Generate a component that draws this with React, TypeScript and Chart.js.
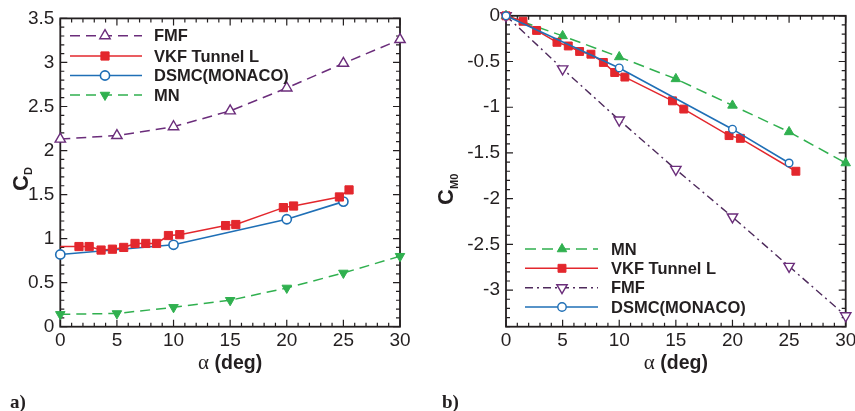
import React, { useEffect, useRef } from "react";
import { Chart, registerables } from "chart.js";

Chart.register(...registerables);

const PURPLE = "#6b2d7b";
const RED = "#e3272d";
const BLUE = "#1f6fb6";
const GREEN = "#30b04f";
const INK = "#231f20";
const SANS = "'Liberation Sans', Arial, Helvetica, sans-serif";
const SERIF = "'Liberation Serif', 'Times New Roman', serif";

// ---------- panel a) : drag coefficient C_D vs alpha ----------
const aAlphaFMF = [0, 5, 10, 15, 20, 25, 30];
const aCdFMF = [2.13, 2.17, 2.27, 2.45, 2.71, 2.99, 3.26];

const aAlphaVKF = [0, 1.65, 2.55, 3.6, 4.6, 5.6, 6.6, 7.55, 8.5, 9.55, 10.55, 14.6, 15.5, 19.7, 20.6, 24.65, 25.5];
const aCdVKF = [0.91, 0.91, 0.91, 0.87, 0.88, 0.9, 0.945, 0.945, 0.945, 1.035, 1.045, 1.148, 1.16, 1.352, 1.37, 1.473, 1.553];

const aAlphaDSMC = [0, 10, 20, 25];
const aCdDSMC = [0.82, 0.93, 1.22, 1.42];

const aAlphaMN = [0, 5, 10, 15, 20, 25, 30];
const aCdMN = [0.14, 0.15, 0.22, 0.3, 0.44, 0.61, 0.8];

const aXTicks = [0, 5, 10, 15, 20, 25, 30];
const aYTicks = [0, 0.5, 1, 1.5, 2, 2.5, 3, 3.5];

// ---------- panel b) : moment coefficient C_M0 vs alpha ----------
const bAlphaMN = [0, 5, 10, 15, 20, 25, 30];
const bCmMN = [0, -0.22, -0.45, -0.69, -0.98, -1.27, -1.61];

const bAlphaVKF = [0, 1.5, 2.7, 4.5, 5.5, 6.5, 7.5, 8.6, 9.6, 10.5, 14.7, 15.7, 19.7, 20.7, 25.6];
const bCmVKF = [0, -0.06, -0.16, -0.29, -0.33, -0.39, -0.42, -0.51, -0.62, -0.67, -0.93, -1.02, -1.31, -1.34, -1.7];

const bAlphaFMF = [0, 5, 10, 15, 20, 25, 30];
const bCmFMF = [0, -0.58, -1.14, -1.68, -2.2, -2.74, -3.28];

const bAlphaDSMC = [0, 10, 20, 25];
const bCmDSMC = [0, -0.57, -1.24, -1.61];

const bXTicks = [0, 5, 10, 15, 20, 25, 30];
const bYTicks = [0, -0.5, -1, -1.5, -2, -2.5, -3];

function pts(xs: number[], ys: number[]) {
  return xs.map((x, i) => ({ x, y: ys[i] }));
}

type Spec = {
  offset: number;
  width: number;
  plotLeft: number;
  plotRight: number;
  plotTop: number;
  plotBottom: number;
  xMin: number;
  xMax: number;
  yMin: number;
  yMax: number;
  xTicks: number[];
  yTicks: number[];
  datasets: any[];
  legendOrder: number[];
  legendX: [number, number, number, number];
  legendRows: number[];
  yTitle: { main: string; sub: string; cx: number; cy: number; sdx: number; sdy: number; subFont: number };
  xTitleY: number;
  panel: string;
  panelX: number;
  panelY: number;
};

function drawMarker(ctx: CanvasRenderingContext2D, ds: any, x: number, y: number) {
  const r = ds.legendRadius;
  const style = ds.pointStyle;
  const rot = ((ds.pointRotation || 0) * Math.PI) / 180;
  ctx.save();
  ctx.setLineDash([]);
  ctx.beginPath();
  if (style === "rect") {
    const s = r * Math.SQRT1_2;
    ctx.rect(x - s, y - s, 2 * s, 2 * s);
  } else if (style === "circle") {
    ctx.arc(x, y, r, 0, Math.PI * 2);
  } else {
    let a = rot;
    ctx.moveTo(x + Math.sin(a) * r, y - Math.cos(a) * r);
    a += (2 * Math.PI) / 3;
    ctx.lineTo(x + Math.sin(a) * r, y - Math.cos(a) * r);
    a += (2 * Math.PI) / 3;
    ctx.lineTo(x + Math.sin(a) * r, y - Math.cos(a) * r);
    ctx.closePath();
  }
  ctx.fillStyle = ds.pointBackgroundColor;
  ctx.fill();
  ctx.lineWidth = ds.pointBorderWidth;
  ctx.strokeStyle = ds.pointBorderColor;
  ctx.stroke();
  ctx.restore();
}

function decor(spec: Spec) {
  return {
    id: "decor",
    beforeDatasetsDraw(chart: any) {
      const ctx: CanvasRenderingContext2D = chart.ctx;
      const { left, right, top, bottom } = chart.chartArea;
      const xs = chart.scales.x;
      const ys = chart.scales.y;
      ctx.save();
      ctx.strokeStyle = INK;
      ctx.lineWidth = 1.2;
      ctx.beginPath();
      for (let v = spec.xMin; v <= spec.xMax + 1e-9; v += 1) {
        const major = Math.abs(v / 5 - Math.round(v / 5)) < 1e-6;
        const len = major ? 7 : 4;
        const px = xs.getPixelForValue(v);
        ctx.moveTo(px, bottom);
        ctx.lineTo(px, bottom - len);
        ctx.moveTo(px, top);
        ctx.lineTo(px, top + len);
      }
      const n = Math.round((spec.yMax - spec.yMin) / 0.1);
      for (let i = 0; i <= n; i++) {
        const v = spec.yMin + i * 0.1;
        const major = Math.abs(v / 0.5 - Math.round(v / 0.5)) < 1e-6;
        const len = major ? 7 : 4;
        const py = ys.getPixelForValue(v);
        ctx.moveTo(left, py);
        ctx.lineTo(left + len, py);
        ctx.moveTo(right, py);
        ctx.lineTo(right - len, py);
      }
      ctx.stroke();
      ctx.lineWidth = 1.8;
      ctx.strokeRect(left, top, right - left, bottom - top);
      ctx.restore();
    },
    afterDraw(chart: any) {
      const ctx: CanvasRenderingContext2D = chart.ctx;
      const { left, right } = chart.chartArea;
      ctx.save();
      // legend
      const [x0, x1, xm, xt] = spec.legendX;
      spec.legendOrder.forEach((di, row) => {
        const ds = chart.data.datasets[di];
        const y = spec.legendRows[row];
        ctx.save();
        ctx.strokeStyle = ds.borderColor;
        ctx.lineWidth = ds.borderWidth;
        ctx.setLineDash(ds.borderDash || []);
        ctx.beginPath();
        ctx.moveTo(x0, y);
        ctx.lineTo(x1, y);
        ctx.stroke();
        ctx.restore();
        drawMarker(ctx, ds, xm, y);
        ctx.fillStyle = INK;
        ctx.font = `bold 16.5px ${SANS}`;
        ctx.textAlign = "left";
        ctx.textBaseline = "middle";
        ctx.fillText(ds.label, xt, y + 1);
      });
      // x title: alpha (deg)
      const cx = (left + right) / 2;
      ctx.textBaseline = "alphabetic";
      ctx.font = `21px ${SERIF}`;
      const wA = ctx.measureText("\u03b1").width;
      ctx.font = `bold 19.5px ${SANS}`;
      const wD = ctx.measureText(" (deg)").width;
      const sx = cx - (wA + wD) / 2;
      ctx.fillStyle = INK;
      ctx.textAlign = "left";
      ctx.font = `21px ${SERIF}`;
      ctx.fillText("\u03b1", sx, spec.xTitleY);
      ctx.font = `bold 19.5px ${SANS}`;
      ctx.fillText(" (deg)", sx + wA, spec.xTitleY);
      // y title
      const t = spec.yTitle;
      ctx.save();
      ctx.translate(t.cx, t.cy);
      ctx.rotate(-Math.PI / 2);
      ctx.textAlign = "center";
      ctx.textBaseline = "middle";
      ctx.font = `bold 22px ${SANS}`;
      ctx.fillText(t.main, 0, 0);
      ctx.font = `bold ${t.subFont}px ${SANS}`;
      ctx.textAlign = "left";
      ctx.fillText(t.sub, t.sdx, t.sdy);
      ctx.restore();
      // panel label
      ctx.font = `bold 19px ${SERIF}`;
      ctx.textAlign = "left";
      ctx.textBaseline = "alphabetic";
      ctx.fillText(spec.panel, spec.panelX, spec.panelY);
      ctx.restore();
    },
  };
}

function Panel({ spec }: { spec: Spec }) {
  const ref = useRef<HTMLCanvasElement>(null);
  useEffect(() => {
    const canvas = ref.current!;
    const H = 411;
    const tickFont = { family: SANS, size: 19 };
    const fmt = (v: any) => String(Math.round(Number(v) * 10) / 10);
    const chart = new Chart(canvas, {
      type: "line",
      data: { datasets: spec.datasets },
      options: {
        responsive: false,
        maintainAspectRatio: false,
        animation: false,
        devicePixelRatio: 1,
        layout: {
          padding: { left: 0, top: spec.plotTop, right: spec.width - spec.plotRight, bottom: 0 },
        },
        elements: { line: { tension: 0 } },
        plugins: { legend: { display: false }, tooltip: { enabled: false } },
        scales: {
          x: {
            type: "linear",
            min: spec.xMin,
            max: spec.xMax,
            afterBuildTicks: (s: any) => {
              s.ticks = spec.xTicks.map((v) => ({ value: v }));
            },
            afterFit: (s: any) => {
              s.height = H - spec.plotBottom;
              s.paddingLeft = 0;
              s.paddingRight = 0;
            },
            grid: { display: false, drawTicks: false },
            border: { display: false },
            ticks: { font: tickFont, color: INK, padding: 3, maxRotation: 0, autoSkip: false, callback: fmt },
          },
          y: {
            type: "linear",
            min: spec.yMin,
            max: spec.yMax,
            afterBuildTicks: (s: any) => {
              s.ticks = spec.yTicks.map((v) => ({ value: v }));
            },
            afterFit: (s: any) => {
              s.width = spec.plotLeft;
              s.paddingTop = 0;
              s.paddingBottom = 0;
            },
            grid: { display: false, drawTicks: false },
            border: { display: false },
            ticks: { font: tickFont, color: INK, padding: 6, autoSkip: false, callback: fmt },
          },
        },
      },
      plugins: [decor(spec)],
    } as any);
    return () => chart.destroy();
  }, [spec]);
  return (
    <canvas
      ref={ref}
      width={spec.width}
      height={411}
      style={{ position: "absolute", left: spec.offset, top: 0, width: spec.width, height: 411 }}
    />
  );
}

const specA: Spec = {
  offset: 0,
  width: 427,
  plotLeft: 60.3,
  plotRight: 400,
  plotTop: 18.4,
  plotBottom: 326.7,
  xMin: 0,
  xMax: 30,
  yMin: 0,
  yMax: 3.5,
  xTicks: aXTicks,
  yTicks: aYTicks,
  datasets: [
    {
      label: "FMF",
      data: pts(aAlphaFMF, aCdFMF),
      borderColor: PURPLE,
      borderWidth: 1.5,
      borderDash: [10, 6],
      pointStyle: "triangle",
      pointRadius: 6,
      legendRadius: 6,
      pointBorderWidth: 1.4,
      pointBorderColor: PURPLE,
      pointBackgroundColor: "#ffffff",
      clip: false,
    },
    {
      label: "VKF Tunnel L",
      data: pts(aAlphaVKF, aCdVKF),
      borderColor: RED,
      borderWidth: 1.5,
      pointStyle: "rect",
      pointRadius: (c: any) => (c.dataIndex === 0 ? 0 : 5.8),
      legendRadius: 5.8,
      pointBorderWidth: 1,
      pointBorderColor: RED,
      pointBackgroundColor: RED,
      clip: false,
    },
    {
      label: "DSMC(MONACO)",
      data: pts(aAlphaDSMC, aCdDSMC),
      borderColor: BLUE,
      borderWidth: 1.6,
      pointStyle: "circle",
      pointRadius: 4.6,
      legendRadius: 4.6,
      pointBorderWidth: 1.6,
      pointBorderColor: BLUE,
      pointBackgroundColor: "#ffffff",
      clip: false,
    },
    {
      label: "MN",
      data: pts(aAlphaMN, aCdMN),
      borderColor: GREEN,
      borderWidth: 1.5,
      borderDash: [10, 6],
      pointStyle: "triangle",
      pointRotation: 180,
      pointRadius: 5.5,
      legendRadius: 5.5,
      pointBorderWidth: 1,
      pointBorderColor: GREEN,
      pointBackgroundColor: GREEN,
      clip: false,
    },
  ],
  legendOrder: [0, 1, 2, 3],
  legendX: [70, 142, 105, 154],
  legendRows: [35.7, 56, 75.5, 95],
  yTitle: { main: "C", sub: "D", cx: 22, cy: 183, sdx: 8, sdy: 7, subFont: 11 },
  xTitleY: 369,
  panel: "a)",
  panelX: 10,
  panelY: 408,
};

const specB: Spec = {
  offset: 427,
  width: 428,
  plotLeft: 79,
  plotRight: 418.7,
  plotTop: 15.8,
  plotBottom: 326.7,
  xMin: 0,
  xMax: 30,
  yMin: -3.4,
  yMax: 0,
  xTicks: bXTicks,
  yTicks: bYTicks,
  datasets: [
    {
      label: "DSMC(MONACO)",
      data: pts(bAlphaDSMC, bCmDSMC),
      borderColor: BLUE,
      borderWidth: 1.6,
      pointStyle: "circle",
      pointRadius: 3.8,
      legendRadius: 4.2,
      pointBorderWidth: 1.4,
      pointBorderColor: BLUE,
      pointBackgroundColor: "#ffffff",
      clip: false,
    },
    {
      label: "VKF Tunnel L",
      data: pts(bAlphaVKF, bCmVKF),
      borderColor: RED,
      borderWidth: 1.5,
      pointStyle: "rect",
      pointRadius: 5.6,
      legendRadius: 5.6,
      pointBorderWidth: 1,
      pointBorderColor: RED,
      pointBackgroundColor: RED,
      clip: false,
    },
    {
      label: "MN",
      data: pts(bAlphaMN, bCmMN),
      borderColor: GREEN,
      borderWidth: 1.5,
      borderDash: [11, 6],
      pointStyle: "triangle",
      pointRadius: 5.5,
      legendRadius: 5.5,
      pointBorderWidth: 1,
      pointBorderColor: GREEN,
      pointBackgroundColor: GREEN,
      clip: false,
    },
    {
      label: "FMF",
      data: pts(bAlphaFMF, bCmFMF),
      borderColor: "#4e2a5c",
      borderWidth: 1.4,
      borderDash: [8, 4, 2, 4],
      pointStyle: "triangle",
      pointRotation: 180,
      pointRadius: 6,
      legendRadius: 6,
      pointBorderWidth: 1.4,
      pointBorderColor: PURPLE,
      pointBackgroundColor: "#ffffff",
      clip: false,
    },
  ],
  legendOrder: [2, 1, 3, 0],
  legendX: [98, 171, 135, 184],
  legendRows: [249, 268.3, 287.7, 307],
  yTitle: { main: "C", sub: "M0", cx: 20, cy: 197, sdx: 8, sdy: 8, subFont: 11 },
  xTitleY: 369,
  panel: "b)",
  panelX: 15,
  panelY: 408,
};

export default function App() {
  return (
    <div
      style={{
        position: "absolute",
        left: 0,
        top: 0,
        width: 855,
        height: 411,
        background: "#ffffff",
        overflow: "hidden",
      }}
    >
      <Panel spec={specA} />
      <Panel spec={specB} />
    </div>
  );
}
